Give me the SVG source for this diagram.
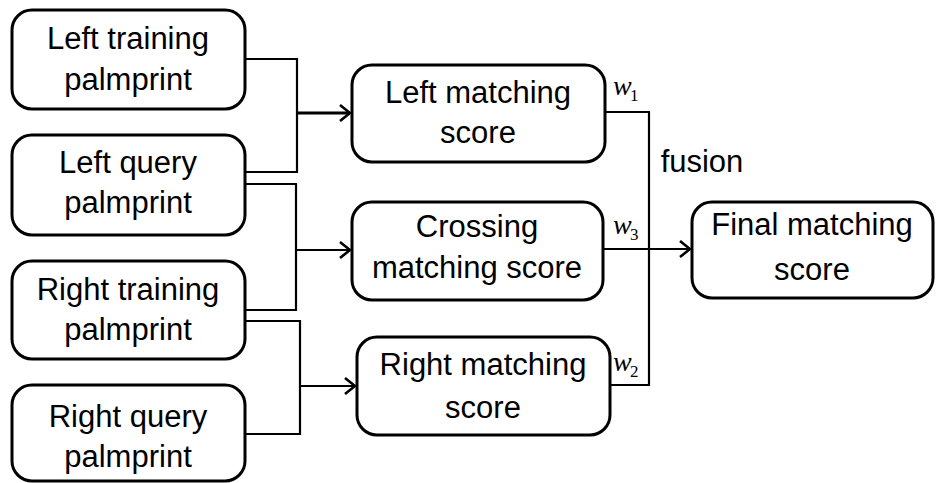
<svg xmlns="http://www.w3.org/2000/svg" width="936" height="483" viewBox="0 0 936 483">
  <style>
    .box { fill: #ffffff; stroke: #000000; stroke-width: 3; }
    .lbl { font-family: "Liberation Sans", Arial, sans-serif; font-size: 31px; fill: #000000; text-anchor: middle; }
    .wire { fill: none; stroke: #000000; stroke-width: 2.2; }
    .arrow { fill: none; stroke: #000000; stroke-width: 2.2; marker-end: url(#head); }
    .w { font-family: "Liberation Serif", "Times New Roman", serif; font-style: italic; font-size: 28px; fill: #000000; }
    .sub { font-family: "Liberation Serif", "Times New Roman", serif; font-size: 17px; fill: #000000; }
  </style>
  <defs>
    <marker id="head" markerUnits="userSpaceOnUse" markerWidth="14" markerHeight="18" refX="12" refY="9" orient="auto">
      <path d="M2,1 L12,9 L2,17" fill="none" stroke="#000000" stroke-width="2.6"/>
    </marker>
  </defs>
  <rect width="936" height="483" fill="#ffffff"/>

  <!-- connectors -->
  <g id="connectors">
    <!-- left training + left query -> left matching -->
    <polyline class="wire" points="245,59 297,59 297,172 245,172"/>
    <line class="arrow" x1="297" y1="113" x2="350" y2="113" style="stroke-width:3"/>
    <!-- left query + right training -> crossing -->
    <polyline class="wire" points="245,184 296,184 296,310 245,310"/>
    <line class="arrow" x1="296" y1="250" x2="350" y2="250"/>
    <!-- right training + right query -> right matching -->
    <polyline class="wire" points="245,321 300,321 300,434 245,434"/>
    <line class="arrow" x1="300" y1="386" x2="355" y2="386"/>
    <!-- fusion of the three scores -->
    <polyline class="wire" points="605,112 649,112 649,385 610,385"/>
    <line class="arrow" x1="603" y1="249" x2="690" y2="249"/>
  </g>

  <!-- input palmprints -->
  <g id="left-training">
    <rect class="box" x="12" y="10" width="233" height="99" rx="20"/>
    <text class="lbl" x="128" y="49">Left training</text>
    <text class="lbl" x="128" y="90">palmprint</text>
  </g>
  <g id="left-query">
    <rect class="box" x="12" y="135" width="233" height="100" rx="20"/>
    <text class="lbl" x="128" y="173">Left query</text>
    <text class="lbl" x="128" y="213">palmprint</text>
  </g>
  <g id="right-training">
    <rect class="box" x="12" y="261" width="233" height="98" rx="20"/>
    <text class="lbl" x="128" y="300">Right training</text>
    <text class="lbl" x="128" y="340">palmprint</text>
  </g>
  <g id="right-query">
    <rect class="box" x="12" y="385" width="233" height="96" rx="20"/>
    <text class="lbl" x="128" y="427">Right query</text>
    <text class="lbl" x="128" y="467">palmprint</text>
  </g>

  <!-- matching scores -->
  <g id="left-matching">
    <rect class="box" x="352" y="65" width="253" height="97" rx="20"/>
    <text class="lbl" x="478" y="103">Left matching</text>
    <text class="lbl" x="478" y="143">score</text>
  </g>
  <g id="crossing-matching">
    <rect class="box" x="352" y="202" width="251" height="98" rx="20"/>
    <text class="lbl" x="477" y="237">Crossing</text>
    <text class="lbl" x="477" y="278">matching score</text>
  </g>
  <g id="right-matching">
    <rect class="box" x="357" y="337" width="253" height="98" rx="20"/>
    <text class="lbl" x="483" y="375">Right matching</text>
    <text class="lbl" x="483" y="418">score</text>
  </g>

  <!-- final result -->
  <g id="final-matching">
    <rect class="box" x="692" y="202" width="241" height="96" rx="20"/>
    <text class="lbl" x="812" y="235">Final matching</text>
    <text class="lbl" x="812" y="280">score</text>
  </g>

  <!-- weights and fusion label -->
  <g id="weights">
    <text class="w" x="613" y="95">w</text><text class="sub" x="630" y="101">1</text>
    <text class="w" x="613" y="234">w</text><text class="sub" x="630" y="240">3</text>
    <text class="w" x="613" y="371">w</text><text class="sub" x="630" y="377">2</text>
    <text class="lbl" x="702" y="172">fusion</text>
  </g>
</svg>
